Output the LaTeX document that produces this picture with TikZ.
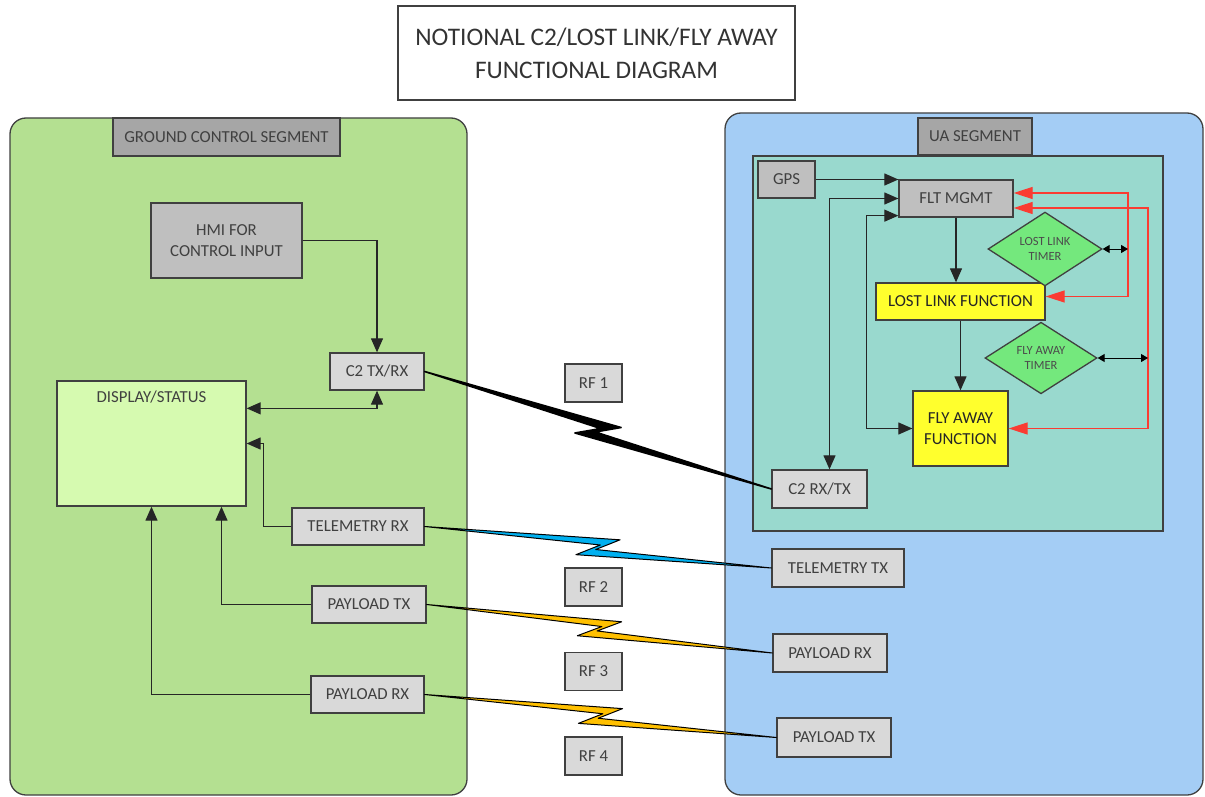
\documentclass[tikz,border=0pt]{standalone}
\usepackage{fontspec}
\setmainfont{Carlito}
\usetikzlibrary{arrows.meta,shapes.geometric,calc}

\definecolor{gcsgreen}{RGB}{180,224,145}
\definecolor{dispgreen}{RGB}{214,250,176}
\definecolor{uablue}{RGB}{164,205,245}
\definecolor{uateal}{RGB}{153,217,206}
\definecolor{labgrey}{RGB}{166,166,166}
\definecolor{midgrey}{RGB}{191,191,191}
\definecolor{ltgrey}{RGB}{217,217,217}
\definecolor{fnyellow}{RGB}{255,255,45}
\definecolor{tmgreen}{RGB}{116,232,125}
\definecolor{lnkblue}{RGB}{0,176,240}
\definecolor{lnkorange}{RGB}{255,192,0}
\definecolor{busred}{RGB}{250,60,50}
\definecolor{boxline}{RGB}{64,64,64}

\tikzset{
  box/.style={draw=boxline, line width=1.3pt, inner sep=0pt, align=center,
              text=black!75, font=\fontsize{16.8}{21}\selectfont},
  sz/.style 2 args={minimum width=#1pt, minimum height=#2pt},
  conn/.style={draw=black!85, line width=1.2pt},
  redbus/.style={draw=busred, line width=1.2pt,
                 {Triangle[length=19pt,width=12pt]}-{Triangle[length=19pt,width=12pt]}},
  tmlink/.style={draw=black, line width=1pt,
                 {Triangle[length=7pt,width=8pt]}-{Triangle[length=7pt,width=8pt]}},
  timer/.style={box, shape=diamond, fill=tmgreen, text=black!70,
                font=\fontsize{12.5}{15}\selectfont},
}

% zig-zag radio link between two anchors: #3 fill, #4 outline width
\newcommand{\rflink}[4]{%
  \filldraw[fill=#3, draw=black, line width=#4, line join=round]
    let \p1=(#1), \p2=(#2), \n1={atan2(\y2-\y1,\x2-\x1)},
        \p3=($(\p1)!0.5!(\p2)$) in
    (\p1) -- ($(\p3)+(\n1:21pt)+(\n1+90:10pt)$)
          -- ($(\p3)+(\n1:-2pt)+(\n1+90:-2.5pt)$) -- (\p2)
          -- ($(\p3)+(\n1:-21pt)+(\n1+90:-10pt)$)
          -- ($(\p3)+(\n1:2pt)+(\n1+90:2.5pt)$) -- cycle;}

\begin{document}
\begin{tikzpicture}[x=1pt, y=-1pt, >={Triangle[length=14pt,width=12pt]}]
    \useasboundingbox (0,0) rectangle (1205,797);

    %% title
    \node[box, sz={397}{94}, text=black!80, font=\fontsize{25.3}{33}\selectfont]
        (title) at (596.5,53) {NOTIONAL C2/LOST LINK/FLY AWAY\\FUNCTIONAL DIAGRAM};

    %% segments
    \draw[draw=boxline, line width=1.3pt, fill=gcsgreen, rounded corners=16pt]
        (10,118) rectangle (467,795);
    \draw[draw=boxline, line width=1.3pt, fill=uablue, rounded corners=16pt]
        (725,113) rectangle (1203,795);
    \draw[draw=boxline, line width=1.3pt, fill=uateal] (753,156) rectangle (1163,531);

    \node[box, sz={227}{38}, fill=labgrey] (gcslab) at (226.5,137) {GROUND CONTROL SEGMENT};
    \node[box, sz={114}{37}, fill=labgrey] (ualab)  at (975,136.5) {UA SEGMENT};

    %% ground control segment
    \node[box, sz={151}{75}, fill=midgrey] (hmi) at (226.5,240.5) {HMI FOR\\CONTROL INPUT};
    \node[box, sz={94}{37}, fill=ltgrey]   (c2g) at (377,371.5) {C2 TX/RX};
    \node[box, sz={189}{125}, fill=dispgreen,
          label={[anchor=north, inner sep=0pt, yshift=-10pt, text=black!75,
                  font=\fontsize{16.8}{21}\selectfont]north:DISPLAY/STATUS}]
        (disp) at (151.5,443.5) {};
    \node[box, sz={132}{37}, fill=ltgrey] (tlmrx) at (358,526.5) {TELEMETRY RX};
    \node[box, sz={114}{37}, fill=ltgrey] (pltxg) at (369,604.5) {PAYLOAD TX};
    \node[box, sz={113}{37}, fill=ltgrey] (plrxg) at (367.5,694.5) {PAYLOAD RX};

    \draw[conn, ->]  (hmi.east) -| (c2g.north);
    \draw[conn, <->] ($(disp.north east)+(0,28)$) -| (c2g.south);
    \draw[conn, ->]  (tlmrx.west) -- ++(-28,0) |- (disp.east);
    \draw[conn, ->]  (pltxg.west) -| ($(disp.south)+(70,0)$);
    \draw[conn, ->]  (plrxg.west) -| (disp.south);

    %% RF labels
    \node[box, sz={57}{38}, fill=ltgrey] (rf1) at (593.5,383) {RF 1};
    \node[box, sz={57}{38}, fill=ltgrey] (rf2) at (593.5,587) {RF 2};
    \node[box, sz={57}{38}, fill=ltgrey] (rf3) at (593.5,671.5) {RF 3};
    \node[box, sz={57}{38}, fill=ltgrey] (rf4) at (593.5,756) {RF 4};

    %% UA segment
    \node[box, sz={57}{37}, fill=midgrey]   (gps) at (786.5,179.5) {GPS};
    \node[box, sz={114}{37}, fill=midgrey]  (flt) at (956,198.5) {FLT MGMT};
    \node[box, sz={169}{37}, fill=fnyellow, text=black!85] (llf) at (960.5,301.5) {LOST LINK FUNCTION};
    \node[box, sz={95}{75}, fill=fnyellow, text=black!85]  (faf) at (960.5,428.5) {FLY AWAY\\FUNCTION};
    \node[box, sz={95}{38}, fill=ltgrey]    (c2a) at (819.5,489) {C2 RX/TX};
    \node[timer, sz={114}{60}] (llt) at (1045,249) {LOST LINK\\TIMER};
    \node[timer, sz={112}{59}] (fat) at (1041,358) {FLY AWAY\\TIMER};
    \node[box, sz={132}{38}, fill=ltgrey] (tlmtx) at (838,568) {TELEMETRY TX};
    \node[box, sz={114}{38}, fill=ltgrey] (plrxa) at (830,653) {PAYLOAD RX};
    \node[box, sz={114}{39}, fill=ltgrey] (pltxa) at (834,737.5) {PAYLOAD TX};

    \draw[conn, ->]  (gps.east) -- (gps.east -| flt.west);
    \draw[conn, <->] (flt.west) -| ($(c2a.north)+(10,0)$);
    \draw[conn, <->] ($(flt.south west)+(0,-2)$) -- ++(-32,0) |- (faf.west);
    \draw[conn, ->]  (flt.south) -- (flt.south |- llf.north);
    \draw[conn, ->]  (llf.south) -- (faf.north);

    % timer buses
    \coordinate (busa) at (1128,193);
    \coordinate (busb) at (1148,208);
    \draw[redbus] (flt.east |- busa) -- (busa) |- ($(llf.east)+(0,-5)$);
    \draw[redbus] (flt.east |- busb) -- (busb) |- (faf.east);
    \draw[tmlink] (llt.east) -- (llt.east -| busa);
    \draw[tmlink] (fat.east) -- (fat.east -| busb);

    %% radio links
    \rflink{c2g.east}{c2a.west}{black}{1.6pt}
    \rflink{tlmrx.east}{tlmtx.west}{lnkblue}{1pt}
    \rflink{pltxg.east}{plrxa.west}{lnkorange}{1pt}
    \rflink{plrxg.east}{pltxa.west}{lnkorange}{1pt}

\end{tikzpicture}
\end{document}
